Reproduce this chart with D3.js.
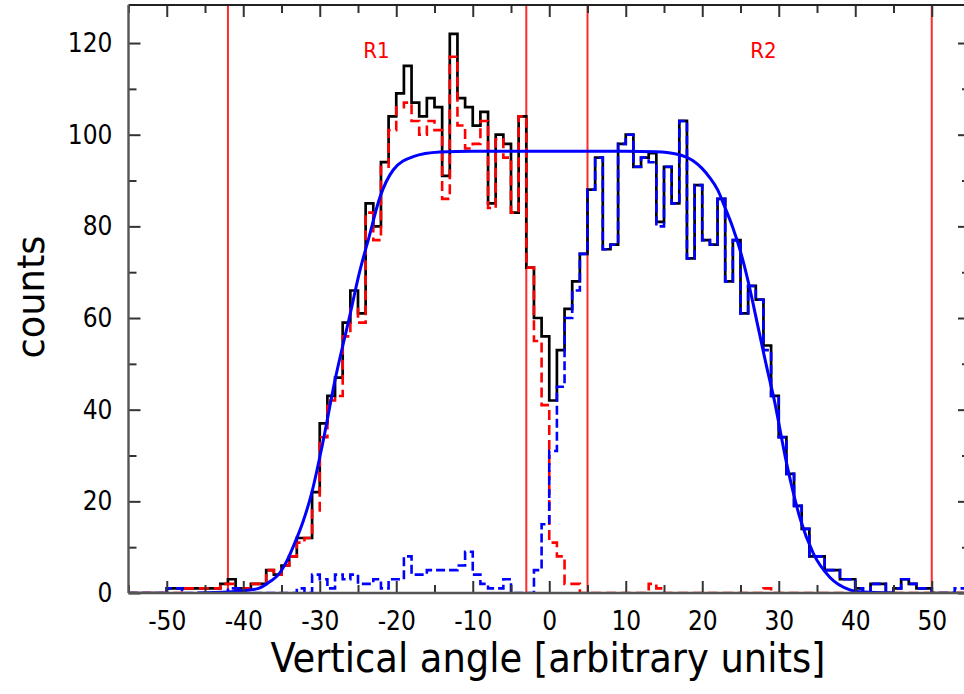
<!DOCTYPE html>
<html><head><meta charset="utf-8">
<script src="https://cdn.jsdelivr.net/npm/d3@7"></script>
<style>
body{margin:0;background:#fff;}
svg{display:block;}
text{font-family:'Liberation Sans Narrow','DejaVu Sans Condensed',sans-serif;}
</style></head>
<body>
<svg id="c" width="964" height="694"></svg>
<script>
// Histogram bins: left edges from -55 to 54, width 1
const binStart = -55;
const binWidth = 1;
const totalCounts = [0,0,0,0,0, 1,1,1,1,1,1,1,2,3,1,1,2,2,5,4,6,8,12,12,22,37,43,47,59,66,61,85,80,94,104,109,115,107,104,108,106,91,122,108,106,102,105,85,100,98,83,104,71,60,56,42,53,62,68,74,88,95,75,76,98,100,93,95,96,81,93,85,103,73,89,77,76,86,68,77,61,67,64,54,43,34,26,19,14,8,8,5,5,3,3,1,0,2,2,0,1,3,2,1,1,0,0,0,0,0];
const r1Counts = [0,0,0,0,0,0,0, 1,1,1,1,1,2,2,0,1,2,2,5,4,6,8,11,12,18,34,42,43,56,62,59,83,77,93,101,106,107,103,100,103,101,86,117,102,97,98,103,84,99,95,83,104,71,55,41,11,8,2,2, 0,0,0,0,0,0,0,0,0, 2,1, 0,0,0,0,0,0,0,0,0,0,0,0,0, 1, 0,0,0,0,0,0,0,0,0,0,0,0,0,0,0,0,0,0,0,0,0,0,0,0,0,0];
const r2Counts = [0,0,0,0,0, 1,1, 0,0,0,0,0,0, 1,1, 0,0,0,0,0,0,0, 1,0,4,3,1,4,3,4,2,2,3,1,3,3,8,4,4,5,5,5,5,6,9,4,2,1,1,3,0,0,0,5,15,31,45,60,66,74,88,95,75,76,98,100,93,95,94,80,93,85,103,73,89,77,76,86,68,77,61,67,64,53,43,34,26,19,14,8,8,5,5,3,3,1,0,2,2,0,1,3,2,1,1,0,0,0,1,1];
// Fit curve, points: [angle, counts]
const fitPoints = [[-46,0],[-42,0.2],[-40,0.5],[-38,1.0],[-36.5,2.5],[-35.4,4],[-34.3,7],[-33.3,10.8],[-32.2,15.5],[-31.1,21.5],[-29.7,32],[-28,46.5],[-26.1,60.3],[-24.8,70],[-23.6,77.4],[-22.1,86.5],[-20.4,92.3],[-17.8,95.2],[-14.3,96.2],[-10,96.4],[0,96.4],[10,96.4],[14,96.3],[16.6,95.8],[18.8,94.3],[20,92.6],[21,90.6],[22,88],[23,84],[24,79.7],[25,74.5],[26,68],[27.3,58],[28.6,48],[29.3,43],[31,28.5],[32.8,16.2],[34.5,8.7],[36.7,3.4],[39.3,0.7],[41,0.2],[45,0]];
// Region boundaries and labels
const regionLines = [-42, -3, 5, 50];
const regionLabels = [{text:"R1", x:-22.6}, {text:"R2", x:28}];
const xMajorTicks = [-50,-40,-30,-20,-10,0,10,20,30,40,50];
const xMinorTicks = [-55,-45,-35,-25,-15,-5,5,15,25,35,45,55];
const yMajorTicks = [0,20,40,60,80,100,120];
const yMinorTicks = [10,30,50,70,90,110];
const xTitle = "Vertical angle [arbitrary units]";
const yTitle = "counts";

const svg = d3.select("#c");
const L = 128.5, R = 970, T = 5, B = 593;
const x = d3.scaleLinear().domain([-55,55]).range([L,R]);
const y = d3.scaleLinear().domain([0,128.3]).range([B,T]);

svg.append("defs").append("clipPath").attr("id","clip")
  .append("rect").attr("x",L).attr("y",T).attr("width",R-L).attr("height",B-T);
const plot = svg.append("g").attr("clip-path","url(#clip)");

// region lines
plot.selectAll("line.reg").data(regionLines).enter().append("line")
  .attr("x1",d=>x(d)).attr("x2",d=>x(d)).attr("y1",T).attr("y2",B)
  .attr("stroke","#ff2a2a").attr("stroke-width",2);

function stepPts(arr){
  const pts = arr.map((v,i)=>[binStart+i*binWidth, v]);
  pts.push([binStart+arr.length*binWidth, arr[arr.length-1]]);
  return pts;
}
const stepLine = d3.line().x(d=>x(d[0])).y(d=>y(d[1])).curve(d3.curveStepAfter);

plot.append("path").attr("d",stepLine(stepPts(totalCounts)))
  .attr("fill","none").attr("stroke","#000").attr("stroke-width",2.7);
plot.append("path").attr("d",stepLine(stepPts(r1Counts)))
  .attr("fill","none").attr("stroke","#ff0000").attr("stroke-width",2.6).attr("stroke-dasharray","10,5");
plot.append("path").attr("d",stepLine(stepPts(r2Counts)))
  .attr("fill","none").attr("stroke","#0000ff").attr("stroke-width",2.6).attr("stroke-dasharray","9,4");

const fitLine = d3.line().x(d=>x(d[0])).y(d=>y(d[1])).curve(d3.curveMonotoneX);
plot.append("path").attr("d",fitLine(fitPoints))
  .attr("fill","none").attr("stroke","#0000ff").attr("stroke-width",3);

// region labels
svg.selectAll("text.rl").data(regionLabels).enter().append("text")
  .attr("x",d=>x(d.x)).attr("y",58).attr("text-anchor","middle")
  .attr("fill","#ff0000").attr("font-size",22).text(d=>d.text);

// axes
const axG = svg.append("g");
function ax(gen, tr){ const g = axG.append("g").attr("transform",tr).call(gen); g.select(".domain").remove(); g.selectAll(".tick line").attr("stroke","#333").attr("stroke-width",2); return g; }
const bx = ax(d3.axisBottom(x).tickValues(xMajorTicks).tickSize(-12).tickPadding(19).tickFormat(d=>String(d)), `translate(0,${B})`);
bx.selectAll("text").attr("font-size",26).attr("fill","#000").style("font-family","'Liberation Sans Narrow','DejaVu Sans Condensed',sans-serif");
ax(d3.axisBottom(x).tickValues(xMinorTicks).tickSize(-8).tickFormat(""), `translate(0,${B})`);
ax(d3.axisTop(x).tickValues(xMajorTicks).tickSize(-12).tickFormat(""), `translate(0,${T})`);
ax(d3.axisTop(x).tickValues(xMinorTicks).tickSize(-8).tickFormat(""), `translate(0,${T})`);
const ly = ax(d3.axisLeft(y).tickValues(yMajorTicks).tickSize(-12).tickPadding(16).tickFormat(d=>String(d)), `translate(${L},0)`);
ly.selectAll("text").attr("font-size",26).attr("fill","#000").style("font-family","'Liberation Sans Narrow','DejaVu Sans Condensed',sans-serif");
ax(d3.axisLeft(y).tickValues(yMinorTicks).tickSize(-8).tickFormat(""), `translate(${L},0)`);
ax(d3.axisRight(y).tickValues(yMajorTicks).tickSize(-12).tickFormat(""), `translate(${R},0)`);
ax(d3.axisRight(y).tickValues(yMinorTicks).tickSize(-8).tickFormat(""), `translate(${R},0)`);

// frame
axG.append("line").attr("x1",L).attr("x2",R).attr("y1",B).attr("y2",B).attr("stroke","#555").attr("stroke-width",2.6);
axG.append("line").attr("x1",L).attr("x2",R).attr("y1",T).attr("y2",T).attr("stroke","#222").attr("stroke-width",2);
axG.append("line").attr("x1",L).attr("x2",L).attr("y1",T).attr("y2",B).attr("stroke","#555").attr("stroke-width",2.4);
axG.append("line").attr("x1",R).attr("x2",R).attr("y1",T).attr("y2",B).attr("stroke","#555").attr("stroke-width",2.4);

// titles
svg.append("text").attr("x",548).attr("y",672).attr("text-anchor","middle")
  .attr("font-size",40).attr("textLength",555).attr("lengthAdjust","spacingAndGlyphs").text(xTitle);
svg.append("text").attr("transform","translate(44,297) rotate(-90)").attr("text-anchor","middle")
  .attr("font-size",38).attr("textLength",123).attr("lengthAdjust","spacingAndGlyphs").text(yTitle);
</script>
</body></html>
